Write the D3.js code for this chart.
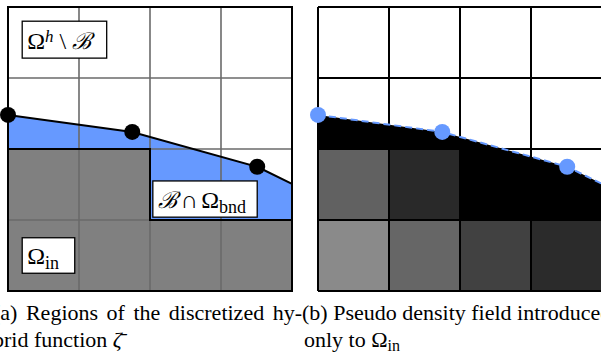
<!DOCTYPE html>
<html lang="en">
  <head>
    <meta charset="UTF-8" />
    <script src="https://cdn.jsdelivr.net/npm/d3@7"></script>
    <style>
      body { margin: 0; background: #fff; }
      text { font-family: "Liberation Serif", "DejaVu Serif", serif; }
    </style>
  </head>
  <body>
    <div id="fig"></div>
    <script>
      const width = 601, height = 360;

      // grid in cell units (4 x 4 cells), y grows downwards
      const gridTicks = [0, 1, 2, 3, 4];
      // discretized boundary curve (cell units)
      const curve = [[0, 1.52], [1.75, 1.76], [3.51, 2.25], [4, 2.49]];
      const curveDots = [[0, 1.52], [1.75, 1.76], [3.51, 2.25]];
      // top edge of Omega_in per column (row index)
      const inTop = [2, 2, 3, 3];
      // pseudo density of Omega_in cells (grey level, 0 = black)
      const densityCells = [
        { col: 0, row: 2, v: 0.38 }, { col: 1, row: 2, v: 0.16 },
        { col: 0, row: 3, v: 0.54 }, { col: 1, row: 3, v: 0.40 },
        { col: 2, row: 3, v: 0.255 }, { col: 3, row: 3, v: 0.17 }
      ];
      // label boxes in cell units [x0, y0, x1, y1]
      const labelBoxes = [[0.2, 0.2, 1.39, 0.72], [2.04, 2.45, 3.51, 2.96], [0.2, 3.25, 0.94, 3.75]];
      const captionA = ["(a) Regions of the discretized hy-", "brid function "];
      const captionB = ["(b) Pseudo density field introduced", "only to "];

      const blue = "#6699ff";
      const svg = d3.select("#fig").append("svg")
        .attr("width", width).attr("height", height);

      const y = d3.scaleLinear().domain([0, 4]).range([7, 291]);
      const xa = d3.scaleLinear().domain([0, 4]).range([8, 292]);
      const xb = d3.scaleLinear().domain([0, 4]).range([318, 602]);

      // polygon between curve and top of Omega_in
      function bndPoly() {
        const p = curve.slice();
        for (let c = inTop.length - 1; c >= 0; c--) {
          p.push([c + 1, inTop[c]]);
          p.push([c, inTop[c]]);
        }
        return p;
      }
      function inPoly() {
        const p = [];
        inTop.forEach((r, c) => { p.push([c, r]); p.push([c + 1, r]); });
        p.push([4, 4]); p.push([0, 4]);
        return p;
      }
      const lineOf = (x) => d3.line().x(d => x(d[0])).y(d => y(d[1]));
      const polyOf = (x) => d3.line().x(d => x(d[0])).y(d => y(d[1])).curve(d3.curveLinearClosed);

      // ---------- panel (a)
      const ga = svg.append("g");
      ga.append("rect").attr("x", xa(0)).attr("y", y(0))
        .attr("width", xa(4) - xa(0)).attr("height", y(4) - y(0)).attr("fill", "#fff");
      ga.append("path").attr("d", polyOf(xa)(bndPoly())).attr("fill", blue);
      ga.append("path").attr("d", polyOf(xa)(inPoly())).attr("fill", "#808080");
      ga.selectAll(".vg").data(gridTicks.slice(1, 4)).join("line")
        .attr("x1", d => xa(d)).attr("x2", d => xa(d)).attr("y1", y(0)).attr("y2", y(4))
        .attr("stroke", "#6a6a6a").attr("stroke-width", 1.6);
      ga.selectAll(".hg").data(gridTicks.slice(1, 4)).join("line")
        .attr("x1", xa(0)).attr("x2", xa(4)).attr("y1", d => y(d)).attr("y2", d => y(d))
        .attr("stroke", "#6a6a6a").attr("stroke-width", 1.6);
      // Omega_in outline
      const outline = [];
      inTop.forEach((r, c) => { outline.push([c, r]); outline.push([c + 1, r]); });
      ga.append("path").attr("d", lineOf(xa)(outline)).attr("fill", "none")
        .attr("stroke", "#000").attr("stroke-width", 2);
      ga.append("path").attr("d", lineOf(xa)(curve)).attr("fill", "none")
        .attr("stroke", "#000").attr("stroke-width", 2);
      ga.append("rect").attr("x", xa(0)).attr("y", y(0))
        .attr("width", xa(4) - xa(0)).attr("height", y(4) - y(0))
        .attr("fill", "none").attr("stroke", "#000").attr("stroke-width", 2);
      ga.selectAll("circle").data(curveDots).join("circle")
        .attr("cx", d => xa(d[0])).attr("cy", d => y(d[1])).attr("r", 8).attr("fill", "#000");

      // boxed labels
      function label(box, parts) {
        const g = ga.append("g");
        g.append("rect")
          .attr("x", xa(box[0])).attr("y", y(box[1]))
          .attr("width", xa(box[2]) - xa(box[0])).attr("height", y(box[3]) - y(box[1]))
          .attr("fill", "#fff").attr("stroke", "#000").attr("stroke-width", 1.3);
        const t = g.append("text").attr("x", xa(box[0]) + 5).attr("y", y(box[3]) - 9)
          .attr("font-size", 24);
        parts.forEach(p => {
          const s = t.append("tspan").text(p.t);
          if (p.dx) s.attr("dx", p.dx);
          if (p.sup) s.attr("baseline-shift", "42%").attr("font-size", 17).attr("font-style", "italic");
          if (p.sub) s.attr("baseline-shift", "-28%").attr("font-size", 18);
          if (p.script) s.attr("font-family", "DejaVu Serif").attr("font-style", "italic").attr("font-size", 23);
        });
      }
      label(labelBoxes[0], [{ t: "Ω" }, { t: "h", sup: true }, { t: "\\", dx: 6 }, { t: "ℬ", dx: 6, script: true }]);
      label(labelBoxes[1], [{ t: "ℬ", script: true }, { t: "∩", dx: 4 }, { t: "Ω", dx: 3 }, { t: "bnd", sub: true }]);
      label(labelBoxes[2], [{ t: "Ω" }, { t: "in", sub: true }]);

      // ---------- panel (b)
      const gb = svg.append("g");
      gb.append("rect").attr("x", xb(0)).attr("y", y(0))
        .attr("width", xb(4) - xb(0)).attr("height", y(4) - y(0)).attr("fill", "#fff");
      const grey = d3.scaleLinear().domain([0, 1]).range(["#000", "#fff"]);
      gb.selectAll(".cell").data(densityCells).join("rect")
        .attr("x", d => xb(d.col)).attr("y", d => y(d.row))
        .attr("width", xb(1) - xb(0)).attr("height", y(1) - y(0))
        .attr("fill", d => grey(d.v));
      gb.append("path").attr("d", polyOf(xb)(bndPoly())).attr("fill", "#000");
      gb.selectAll(".vg").data(gridTicks).join("line")
        .attr("x1", d => xb(d)).attr("x2", d => xb(d)).attr("y1", y(0)).attr("y2", y(4))
        .attr("stroke", "#000").attr("stroke-width", 2);
      gb.selectAll(".hg").data(gridTicks).join("line")
        .attr("x1", xb(0)).attr("x2", xb(4)).attr("y1", d => y(d)).attr("y2", d => y(d))
        .attr("stroke", "#000").attr("stroke-width", 2);
      gb.append("path").attr("d", lineOf(xb)(curve)).attr("fill", "none")
        .attr("stroke", blue).attr("stroke-width", 2).attr("stroke-dasharray", "7,4");
      gb.selectAll("circle").data(curveDots).join("circle")
        .attr("cx", d => xb(d[0])).attr("cy", d => y(d[1])).attr("r", 8).attr("fill", blue);

      // ---------- captions
      const capSize = 22;
      const a1 = svg.append("text").attr("x", -7).attr("y", 320).attr("font-size", capSize).text(captionA[0]);
      const natural = a1.node().getComputedTextLength();
      a1.style("word-spacing", ((309 - natural) / 5) + "px");
      const a2 = svg.append("text").attr("x", -7).attr("y", 347).attr("font-size", capSize).text(captionA[1]);
      a2.append("tspan").attr("font-style", "italic").text("ζ\u0304");

      svg.append("text").attr("x", 302).attr("y", 320).attr("font-size", capSize).text(captionB[0]);
      const b2 = svg.append("text").attr("x", 304).attr("y", 347).attr("font-size", capSize).text(captionB[1]);
      b2.append("tspan").text("Ω");
      b2.append("tspan").attr("baseline-shift", "-25%").attr("font-size", 16).text("in");
    </script>
  </body>
</html>
